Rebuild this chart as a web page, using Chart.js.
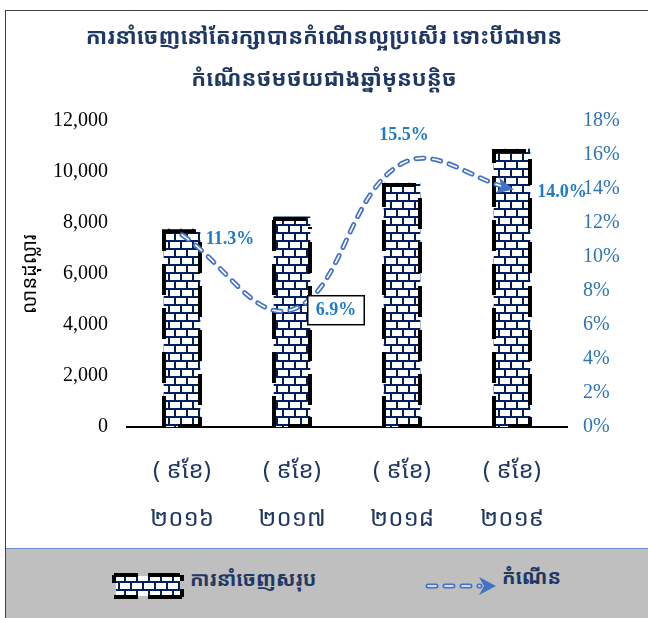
<!DOCTYPE html>
<html>
<head>
<meta charset="utf-8">
<script src="https://cdn.jsdelivr.net/npm/chart.js@4"></script>
<style>
  body { margin: 0; width: 648px; height: 618px; overflow: hidden; background: #fff; position: relative; }
  #frame { position: absolute; left: 5px; top: 10px; width: 700px; height: 700px; border: 1.5px solid #404040; box-sizing: border-box; }
  #wrap { position: absolute; left: 0; top: 0; width: 648px; height: 548px; }
  #legend { position: absolute; left: 6px; top: 548px; width: 700px; height: 80px; background: #bfbfbf; border-top: 1.5px solid #6f8fd0; }
  .lg { position: absolute; font-family: 'Noto Sans Khmer', 'Khmer OS', 'Noto Sans', sans-serif; font-weight: bold; font-size: 20px; color: #1f3864; white-space: nowrap; }
</style>
</head>
<body>
<div id="frame"></div>
<div id="wrap"><canvas id="chart"></canvas></div>
<div id="legend">
  <canvas id="icoBar" width="72" height="26" style="position:absolute;left:106px;top:24px"></canvas>
  <div class="lg" style="left:184px;top:16px">ការនាំចេញសរុប</div>
  <canvas id="icoLine" width="78" height="20" style="position:absolute;left:412px;top:27px"></canvas>
  <div class="lg" style="left:496px;top:14px">កំណើន</div>
</div>
<script>
// chart data
const years = ['២០១៦', '២០១៧', '២០១៨', '២០១៩'];
const periodLabel = '( ៩ខែ)';
const exportValues = [7760, 8240, 9570, 10900];   // លានដុល្លារ
const growthPct = [11.3, 6.9, 15.5, 14.0];        // %

const khmerFont = "'Noto Sans Khmer', 'Khmer OS', 'Noto Sans', sans-serif";
const serifFont = "'Liberation Serif', 'Times New Roman', serif";
const navy = '#002060';
const blue = '#4472c4';
const labelBlue = '#1f7bc4';

// brick pattern used for the bars
function brickPattern() {
  const c = document.createElement('canvas');
  c.width = 24; c.height = 16;
  const g = c.getContext('2d');
  g.fillStyle = '#fff';
  g.fillRect(0, 0, 24, 16);
  g.fillStyle = navy;
  g.fillRect(0, 0, 24, 2);
  g.fillRect(0, 8, 24, 2);
  g.fillRect(0, 2, 2, 6);
  g.fillRect(12, 2, 2, 6);
  g.fillRect(6, 10, 2, 6);
  g.fillRect(18, 10, 2, 6);
  return g.createPattern(c, 'repeat');
}
const bricks = brickPattern();

// black edges on the brick columns
function drawBarEdges(g, left, right, top, bottom) {
  g.save();
  g.strokeStyle = '#000';
  g.lineWidth = 4;
  g.beginPath();
  g.moveTo(left - 1, top + 2);
  g.lineTo(right - 4, top + 2);
  for (let y = bottom; y > top; y -= 44) {
    g.moveTo(left, y);
    g.lineTo(left, Math.max(top, y - 31));
  }
  for (let y = bottom - 22; y > top + 10; y -= 44) {
    g.moveTo(right, y);
    g.lineTo(right, Math.max(top + 10, y - 31));
  }
  g.moveTo(right, bottom);
  g.lineTo(right, bottom - 10);
  g.moveTo(left + 14, bottom - 1);
  g.lineTo(right - 2, bottom - 1);
  g.stroke();
  g.restore();
}

const barEdges = {
  id: 'barEdges',
  afterDatasetDraw(chart, args) {
    if (args.index !== 2) return;
    args.meta.data.forEach(b => {
      drawBarEdges(chart.ctx, b.x - b.width / 2, b.x + b.width / 2, b.y, b.base);
    });
  }
};

const arrowHead = {
  id: 'arrowHead',
  afterDatasetsDraw(chart) {
    const pts = chart.getDatasetMeta(1).data;
    const p = pts[pts.length - 1];
    const a = Math.atan2(p.y - p.cp1y, p.x - p.cp1x);
    const g = chart.ctx;
    g.save();
    g.translate(p.x, p.y);
    g.rotate(a);
    g.fillStyle = blue;
    g.beginPath();
    g.moveTo(2, 0);
    g.lineTo(-15, -8);
    g.lineTo(-11, 0);
    g.lineTo(-15, 8);
    g.closePath();
    g.fill();
    g.restore();
  }
};

const pctLabels = {
  id: 'pctLabels',
  afterDraw(chart) {
    const pts = chart.getDatasetMeta(1).data;
    const offs = [[48, 3], [44, 0], [2, -29], [50, 2]];
    const g = chart.ctx;
    g.save();
    g.font = 'bold 18px ' + serifFont;
    g.textAlign = 'center';
    g.textBaseline = 'middle';
    pts.forEach((p, i) => {
      const txt = growthPct[i].toFixed(1) + '%';
      const x = p.x + offs[i][0], y = p.y + offs[i][1];
      if (i === 1) {
        const w = g.measureText(txt).width + 16;
        g.fillStyle = '#fff';
        g.fillRect(x - w / 2, y - 14, w, 29);
        g.strokeStyle = '#000';
        g.lineWidth = 1.5;
        g.strokeRect(x - w / 2, y - 14, w, 29);
      }
      g.fillStyle = labelBlue;
      g.fillText(txt, x, y + 1);
    });
    g.restore();
  }
};

new Chart(document.getElementById('chart'), {
  data: {
    labels: years.map(y => [periodLabel, y]),
    datasets: [
      {
        type: 'line', label: 'កំណើន', data: growthPct, yAxisID: 'y1', order: 0,
        borderColor: '#fff', borderWidth: 1.6, borderDash: [8, 9], borderCapStyle: 'round',
        tension: 0.4, pointRadius: 0, fill: false
      },
      {
        type: 'line', label: 'កំណើន', data: growthPct, yAxisID: 'y1', order: 1,
        borderColor: blue, borderWidth: 5, borderDash: [8, 9], borderCapStyle: 'round',
        tension: 0.4, pointRadius: 0, fill: false
      },
      {
        type: 'bar', label: 'ការនាំចេញសរុប', data: exportValues, yAxisID: 'y', order: 2,
        backgroundColor: bricks, borderWidth: 0, barThickness: 36
      }
    ]
  },
  options: {
    responsive: true,
    maintainAspectRatio: false,
    animation: false,
    layout: { padding: 0 },
    plugins: {
      legend: { display: false },
      tooltip: { enabled: false },
      title: {
        display: true,
        text: ['ការនាំចេញនៅតែរក្សាបានកំណើនល្អប្រសើរ ទោះបីជាមាន', 'កំណើនថមថយជាងឆ្នាំមុនបន្តិច'],
        color: '#1f3864',
        font: { family: khmerFont, size: 22, weight: 'bold', lineHeight: 1.91 },
        padding: { top: 17, bottom: 20 }
      }
    },
    scales: {
      x: {
        grid: { display: false, drawTicks: false },
        border: { display: true, color: '#000', width: 2 },
        ticks: { color: '#1f3864', padding: 20, font: { family: khmerFont, size: 24, lineHeight: 2 } },
        afterFit(s) { s.height = 121; }
      },
      y: {
        position: 'left', min: 0, max: 12000,
        grid: { display: false, drawTicks: false },
        border: { display: false },
        ticks: {
          stepSize: 2000, padding: 19, color: '#000',
          font: { family: serifFont, size: 20 },
          callback: v => v.toLocaleString('en-US')
        },
        title: {
          display: true, text: 'លានដុល្លារ', color: '#000',
          font: { family: khmerFont, size: 20 },
          padding: { top: 18, bottom: 0 }
        },
        afterFit(s) { s.width = 127; }
      },
      y1: {
        position: 'right', min: 0, max: 18,
        grid: { display: false, drawTicks: false },
        border: { display: false },
        ticks: {
          stepSize: 2, padding: 16, color: '#2e75b6',
          font: { family: serifFont, size: 20 },
          callback: v => v + '%'
        },
        afterFit(s) { s.width = 81; }
      }
    }
  },
  plugins: [barEdges, arrowHead, pctLabels]
});

// legend icons
(function () {
  const g = document.getElementById('icoBar').getContext('2d');
  g.fillStyle = bricks;
  g.fillRect(4, 3, 64, 20);
  g.strokeStyle = '#000';
  g.lineWidth = 4;
  g.beginPath();
  g.moveTo(2, 2); g.lineTo(26, 2);
  g.moveTo(36, 2); g.lineTo(68, 2);
  g.moveTo(2, 2); g.lineTo(2, 10);
  g.moveTo(70, 2); g.lineTo(70, 8);
  g.moveTo(70, 16); g.lineTo(70, 24);
  g.moveTo(2, 24); g.lineTo(26, 24);
  g.moveTo(36, 24); g.lineTo(70, 24);
  g.stroke();

  const h = document.getElementById('icoLine').getContext('2d');
  h.lineCap = 'round';
  h.setLineDash([8, 9]);
  h.strokeStyle = blue; h.lineWidth = 5;
  h.beginPath(); h.moveTo(10, 10); h.lineTo(62, 10); h.stroke();
  h.strokeStyle = '#fff'; h.lineWidth = 1.6;
  h.beginPath(); h.moveTo(10, 10); h.lineTo(62, 10); h.stroke();
  h.fillStyle = blue;
  h.beginPath(); h.moveTo(78, 10); h.lineTo(61, 1); h.lineTo(66, 10); h.lineTo(61, 19); h.closePath(); h.fill();
})();
</script>
</body>
</html>
